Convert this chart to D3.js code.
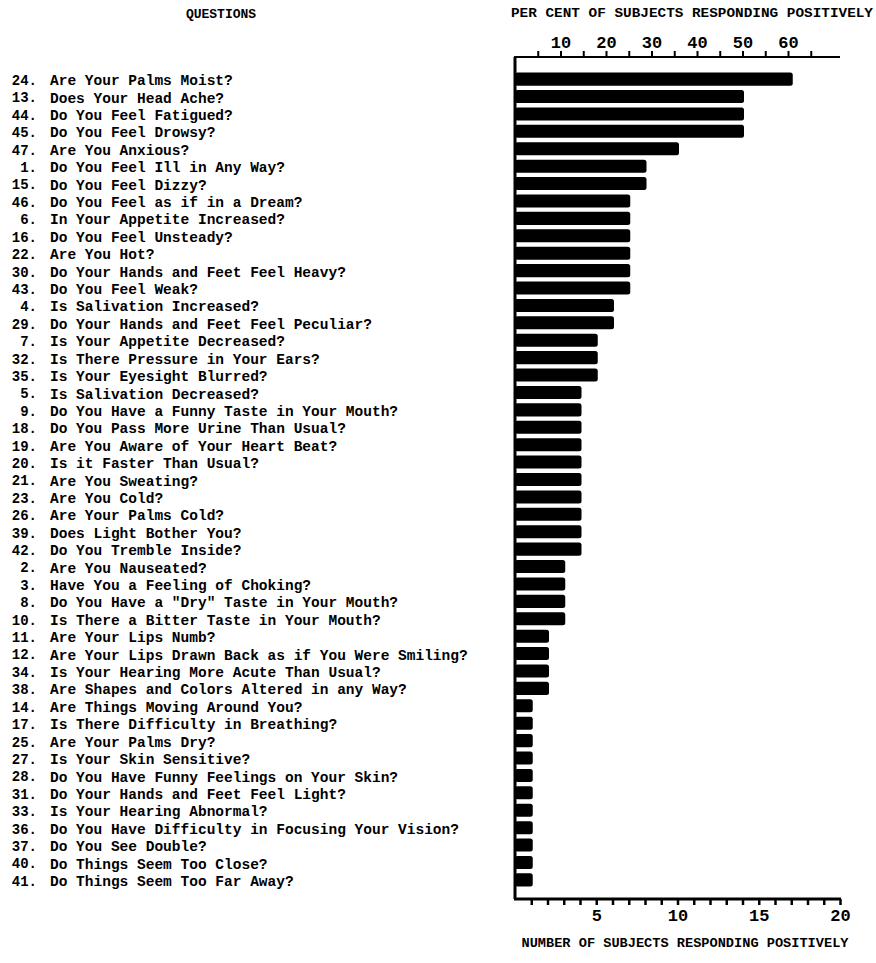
<!DOCTYPE html>
<html>
<head>
<meta charset="utf-8">
<script src="https://cdn.jsdelivr.net/npm/d3@7/dist/d3.min.js"></script>
<style>
  body { margin: 0; background: #fff; }
  svg { display: block; }
  text { font-family: "Liberation Mono", "DejaVu Sans Mono", monospace; font-weight: bold; fill: #000; }
</style>
</head>
<body>
<script>
// ---- data ----
const questionNumbers = [24, 13, 44, 45, 47, 1, 15, 46, 6, 16, 22, 30, 43, 4, 29, 7, 32, 35, 5, 9, 18, 19, 20, 21, 23, 26, 39, 42, 2, 3, 8, 10, 11, 12, 34, 38, 14, 17, 25, 27, 28, 31, 33, 36, 37, 40, 41];
const questions = [
  "Are Your Palms Moist?",
  "Does Your Head Ache?",
  "Do You Feel Fatigued?",
  "Do You Feel Drowsy?",
  "Are You Anxious?",
  "Do You Feel Ill in Any Way?",
  "Do You Feel Dizzy?",
  "Do You Feel as if in a Dream?",
  "In Your Appetite Increased?",
  "Do You Feel Unsteady?",
  "Are You Hot?",
  "Do Your Hands and Feet Feel Heavy?",
  "Do You Feel Weak?",
  "Is Salivation Increased?",
  "Do Your Hands and Feet Feel Peculiar?",
  "Is Your Appetite Decreased?",
  "Is There Pressure in Your Ears?",
  "Is Your Eyesight Blurred?",
  "Is Salivation Decreased?",
  "Do You Have a Funny Taste in Your Mouth?",
  "Do You Pass More Urine Than Usual?",
  "Are You Aware of Your Heart Beat?",
  "Is it Faster Than Usual?",
  "Are You Sweating?",
  "Are You Cold?",
  "Are Your Palms Cold?",
  "Does Light Bother You?",
  "Do You Tremble Inside?",
  "Are You Nauseated?",
  "Have You a Feeling of Choking?",
  "Do You Have a \"Dry\" Taste in Your Mouth?",
  "Is There a Bitter Taste in Your Mouth?",
  "Are Your Lips Numb?",
  "Are Your Lips Drawn Back as if You Were Smiling?",
  "Is Your Hearing More Acute Than Usual?",
  "Are Shapes and Colors Altered in any Way?",
  "Are Things Moving Around You?",
  "Is There Difficulty in Breathing?",
  "Are Your Palms Dry?",
  "Is Your Skin Sensitive?",
  "Do You Have Funny Feelings on Your Skin?",
  "Do Your Hands and Feet Feel Light?",
  "Is Your Hearing Abnormal?",
  "Do You Have Difficulty in Focusing Your Vision?",
  "Do You See Double?",
  "Do Things Seem Too Close?",
  "Do Things Seem Too Far Away?"
];
const subjectCounts = [17, 14, 14, 14, 10, 8, 8, 7, 7, 7, 7, 7, 7, 6, 6, 5, 5, 5, 4, 4, 4, 4, 4, 4, 4, 4, 4, 4, 3, 3, 3, 3, 2, 2, 2, 2, 1, 1, 1, 1, 1, 1, 1, 1, 1, 1, 1];
const totalSubjects = 28;
const countTicks = d3.range(1, 21);
const countLabels = [5, 10, 15, 20];
const percentTicks = d3.range(5, 70, 5);
const percentLabels = [10, 20, 30, 40, 50, 60];

const leftTitle = "QUESTIONS";
const topTitle = "PER CENT OF SUBJECTS RESPONDING POSITIVELY";
const bottomTitle = "NUMBER OF SUBJECTS RESPONDING POSITIVELY";

// ---- layout ----
const W = 876, H = 963;
const x0 = 515, x1 = 840;
const yTop = 57, yBot = 899;

const svg = d3.select("body").append("svg").attr("width", W).attr("height", H);

const x = d3.scaleLinear().domain([0, 20]).range([x0, x1]);
const xPct = d3.scaleLinear().domain([0, 100 * 20 / totalSubjects]).range([x0, x1]);
const y = d3.scaleBand().domain(d3.range(questions.length)).range([70.5, 888.5]).paddingInner(0.25).paddingOuter(0.12);

// titles
svg.append("text").attr("x", 221).attr("y", 18).attr("text-anchor", "middle")
  .style("font-size", "13px").text(leftTitle);
svg.append("text").attr("x", 692).attr("y", 17).attr("text-anchor", "middle")
  .style("font-size", "13.5px").attr("textLength", 362).attr("lengthAdjust", "spacingAndGlyphs").text(topTitle);
svg.append("text").attr("x", 685).attr("y", 947).attr("text-anchor", "middle")
  .style("font-size", "13px").attr("textLength", 327).attr("lengthAdjust", "spacingAndGlyphs").text(bottomTitle);

// question labels
const rows = svg.append("g");
questions.forEach((q, i) => {
  const cy = y(i) + y.bandwidth() / 2 + 1;
  rows.append("text").attr("x", 37).attr("y", cy).attr("dy", "0.35em")
    .attr("text-anchor", "end").style("font-size", "14px").text(questionNumbers[i] + ".");
  rows.append("text").attr("x", 50).attr("y", cy).attr("dy", "0.35em")
    .style("font-size", "14.5px").text(q);
});

// bars
svg.append("g").selectAll("rect").data(subjectCounts).join("rect")
  .attr("x", x(0))
  .attr("y", (d, i) => y(i))
  .attr("width", d => x(d) - x(0) + 1.5)
  .attr("height", y.bandwidth())
  .attr("rx", 2.5)
  .attr("fill", "#000");

// top axis (per cent)
const topAxis = d3.axisTop(xPct).tickValues(percentTicks).tickSize(6).tickPadding(3)
  .tickFormat(d => percentLabels.includes(d) ? d : "");
const gTop = svg.append("g").attr("transform", `translate(0,${yTop})`).call(topAxis);
gTop.select(".domain").remove();
gTop.selectAll(".tick line").attr("stroke", "#000").attr("stroke-width", 2);
gTop.selectAll(".tick text").style("font-size", "17px").style("font-family", "'Liberation Mono', monospace").style("font-weight", "bold").attr("fill", "#000");

// bottom axis (number)
const bottomAxis = d3.axisBottom(x).tickValues(countTicks).tickSize(6).tickPadding(4)
  .tickFormat(d => countLabels.includes(d) ? d : "");
const gBot = svg.append("g").attr("transform", `translate(0,${yBot})`).call(bottomAxis);
gBot.select(".domain").remove();
gBot.selectAll(".tick line").attr("stroke", "#000").attr("stroke-width", 2.5);
gBot.selectAll(".tick text").style("font-size", "17px").style("font-family", "'Liberation Mono', monospace").style("font-weight", "bold").attr("fill", "#000");

// frame lines
svg.append("line").attr("x1", x0 - 1).attr("x2", x1).attr("y1", yTop).attr("y2", yTop).attr("stroke", "#000").attr("stroke-width", 2);
svg.append("line").attr("x1", x0).attr("x2", x0).attr("y1", yTop).attr("y2", yBot).attr("stroke", "#000").attr("stroke-width", 3);
svg.append("line").attr("x1", x0 - 1).attr("x2", x1 + 1).attr("y1", yBot).attr("y2", yBot).attr("stroke", "#000").attr("stroke-width", 3);
</script>
</body>
</html>
